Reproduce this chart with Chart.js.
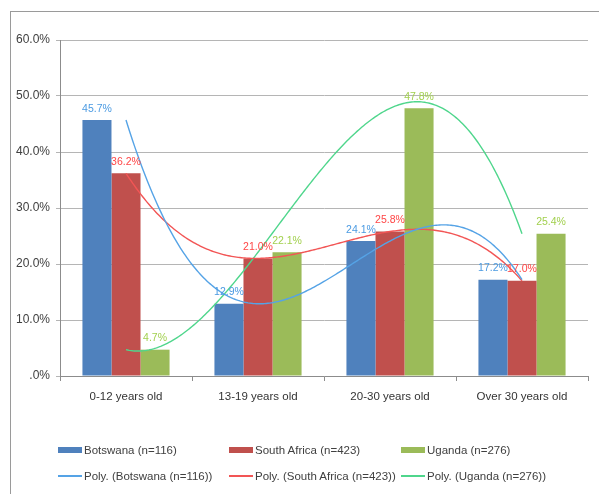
<!DOCTYPE html>
<html>
<head>
<meta charset="utf-8">
<script src="https://cdn.jsdelivr.net/npm/chart.js@4"></script>
<style>
  html,body{margin:0;padding:0;background:#fff;}
  #wrap{position:relative;width:599px;height:494px;overflow:hidden;font-family:"Liberation Sans",Arial,sans-serif;}
  #frame{position:absolute;left:10px;top:11px;right:-5px;bottom:-5px;border-left:1px solid #9a9a9a;border-top:1px solid #9a9a9a;}
  canvas{position:absolute;left:0;top:0;}
  .lg{position:absolute;font-size:11.5px;color:#404040;white-space:nowrap;line-height:14px;}
  .sw{position:absolute;width:24px;}
</style>
</head>
<body>
<div id="wrap">
  <div id="frame"></div>
  <canvas id="c" width="599" height="494"></canvas>
  <div id="legend"></div>
</div>
<script>
const categories = ['0-12 years old', '13-19 years old', '20-30 years old', 'Over 30 years old'];
const seriesNames = ['Botswana (n=116)', 'South Africa (n=423)', 'Uganda (n=276)'];
const botswana = [45.7, 12.9, 24.1, 17.2];
const southAfrica = [36.2, 21.0, 25.8, 17.0];
const uganda = [4.7, 22.1, 47.8, 25.4];
const yTickValues = [0, 10, 20, 30, 40, 50, 60];

const barColors = ['#4f81bd', '#c0504d', '#9bbb59'];
const trendColors = ['#55a3e6', '#f25555', '#4fd68c'];
const labelColors = ['#4a9ae2', '#ff4545', '#a2d04e'];
const seriesValues = [botswana, southAfrica, uganda];

const datasets = [];
seriesValues.forEach((vals, i) => {
  datasets.push({
    type: 'bar', label: seriesNames[i], data: vals,
    backgroundColor: barColors[i], borderWidth: 0,
    categoryPercentage: 0.66, barPercentage: 1.0, order: 1,
    labelColor: labelColors[i]
  });
});
seriesValues.forEach((vals, i) => {
  datasets.push({
    type: 'line', label: 'Poly. (' + seriesNames[i] + ')', data: vals,
    borderColor: trendColors[i], borderWidth: 1.4, pointRadius: 0, fill: false, order: 0
  });
});

// polynomial trendline (order n-1) through the dataset's own points
const polyTrend = {
  id: 'polyTrend',
  beforeDatasetDraw(chart, args) {
    const ds = chart.data.datasets[args.index];
    if (ds.type !== 'line') return;
    const pts = args.meta.data.map(p => ({x: p.x, y: p.y}));
    const n = pts.length;
    const ctx = chart.ctx;
    const a = chart.chartArea;
    ctx.save();
    ctx.beginPath();
    ctx.rect(a.left, a.top, a.right - a.left, a.bottom - a.top);
    ctx.clip();
    ctx.strokeStyle = ds.borderColor;
    ctx.lineWidth = ds.borderWidth;
    ctx.beginPath();
    const x0 = pts[0].x, x1 = pts[n - 1].x, steps = 240;
    for (let s = 0; s <= steps; s++) {
      const x = x0 + (x1 - x0) * s / steps;
      let y = 0;
      for (let i = 0; i < n; i++) {
        let L = 1;
        for (let j = 0; j < n; j++) if (j !== i) L *= (x - pts[j].x) / (pts[i].x - pts[j].x);
        y += L * pts[i].y;
      }
      if (s === 0) ctx.moveTo(x, y); else ctx.lineTo(x, y);
    }
    ctx.stroke();
    ctx.restore();
    return false;
  }
};

const barLabels = {
  id: 'barLabels',
  afterDatasetsDraw(chart) {
    const ctx = chart.ctx;
    ctx.save();
    ctx.font = '10.5px "Liberation Sans", Arial, sans-serif';
    ctx.textAlign = 'center';
    ctx.textBaseline = 'bottom';
    chart.data.datasets.forEach((ds, di) => {
      if (ds.type !== 'bar') return;
      const meta = chart.getDatasetMeta(di);
      ctx.fillStyle = ds.labelColor;
      meta.data.forEach((bar, k) => {
        ctx.fillText(ds.data[k].toFixed(1) + '%', bar.x, bar.y - 6);
      });
    });
    ctx.restore();
  }
};

new Chart(document.getElementById('c'), {
  type: 'bar',
  data: { labels: categories, datasets: datasets },
  options: {
    responsive: false,
    animation: false,
    devicePixelRatio: 1,
    layout: { padding: { left: 10, right: 11, top: 40, bottom: 88 } },
    plugins: { legend: { display: false }, tooltip: { enabled: false } },
    scales: {
      x: {
        offset: true,
        grid: { display: true, drawOnChartArea: false, drawTicks: true, tickLength: 5, color: '#8c8c8c', offset: true },
        border: { display: true, color: '#8c8c8c' },
        ticks: { color: '#333333', padding: 9, font: { family: '"Liberation Sans", Arial, sans-serif', size: 11.5 }, maxRotation: 0 },
        afterFit(s) { s.height = 30; }
      },
      y: {
        min: 0, max: 60,
        afterBuildTicks(s) { s.ticks = yTickValues.map(v => ({value: v})); },
        grid: { color: '#b5b5b5', tickLength: 4, drawTicks: true },
        border: { display: true, color: '#8c8c8c' },
        ticks: {
          color: '#404040', padding: 6,
          font: { family: '"Liberation Sans", Arial, sans-serif', size: 12 },
          callback: v => v === 0 ? '.0%' : v.toFixed(1) + '%'
        },
        afterFit(s) { s.width = 50; }
      }
    }
  },
  plugins: [polyTrend, barLabels]
});

// legend
const legend = document.getElementById('legend');
const colX = [58, 229, 401];
const rowY = [450, 476];
seriesNames.forEach((name, i) => {
  const sw = document.createElement('div');
  sw.className = 'sw';
  sw.style.left = colX[i] + 'px'; sw.style.top = (rowY[0] - 3) + 'px'; sw.style.height = '6px';
  sw.style.background = barColors[i];
  legend.appendChild(sw);
  const t = document.createElement('div');
  t.className = 'lg'; t.textContent = name;
  t.style.left = (colX[i] + 26) + 'px'; t.style.top = (rowY[0] - 7) + 'px';
  legend.appendChild(t);

  const ln = document.createElement('div');
  ln.className = 'sw';
  ln.style.left = colX[i] + 'px'; ln.style.top = (rowY[1] - 1) + 'px'; ln.style.height = '1.5px';
  ln.style.background = trendColors[i];
  legend.appendChild(ln);
  const t2 = document.createElement('div');
  t2.className = 'lg'; t2.textContent = 'Poly. (' + name + ')';
  t2.style.left = (colX[i] + 26) + 'px'; t2.style.top = (rowY[1] - 7) + 'px';
  legend.appendChild(t2);
});
</script>
</body>
</html>
